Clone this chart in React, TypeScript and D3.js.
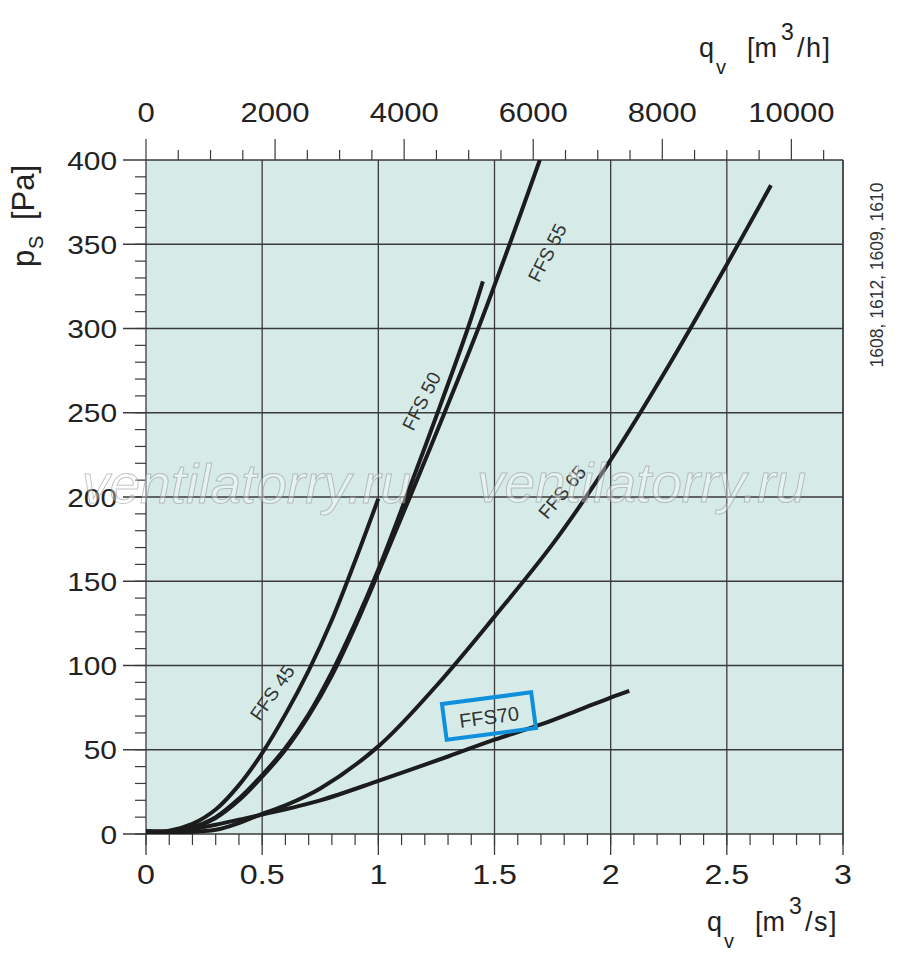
import { curveCatmullRom, line, range, scaleLinear } from "d3";

// qv [m3/s] ticks on the bottom axis
const flowTicks = [0, 0.5, 1, 1.5, 2, 2.5, 3];
const flowLabels = ["0", "0.5", "1", "1.5", "2", "2.5", "3"];
// qv [m3/h] ticks on the top axis
const flowHourTicks = [0, 2000, 4000, 6000, 8000, 10000];
const flowHourLabels = ["0", "2000", "4000", "6000", "8000", "10000"];
// ps [Pa]
const pressureTicks = [0, 50, 100, 150, 200, 250, 300, 350, 400];
const pressureLabels = ["0", "50", "100", "150", "200", "250", "300", "350", "400"];

type Pt = [number, number];

const ffs45: Pt[] = [
  [0, 1.5], [0.1, 2], [0.2, 6], [0.3, 14.5], [0.4, 29], [0.5, 48],
  [0.6, 71], [0.7, 97], [0.8, 127], [0.9, 162], [1.0, 199]
];
const ffs50: Pt[] = [
  [0, 1.5], [0.1, 1.5], [0.2, 4], [0.3, 10], [0.4, 21], [0.5, 35],
  [0.6, 51], [0.7, 71], [0.8, 96], [0.9, 125], [1.0, 157], [1.12, 200],
  [1.255, 250], [1.385, 300], [1.45, 328]
];
const ffs55: Pt[] = [
  [0, 1.5], [0.1, 1.5], [0.2, 3.5], [0.3, 9.5], [0.4, 20], [0.5, 34],
  [0.6, 50], [0.7, 70], [0.8, 94], [0.9, 123], [1.0, 155], [1.13, 198],
  [1.285, 250], [1.43, 300], [1.565, 350], [1.695, 400]
];
const ffs65: Pt[] = [
  [0, 1.5], [0.15, 1], [0.3, 2.5], [0.4, 6.5], [0.5, 12], [0.6, 17],
  [0.75, 27], [1.0, 52], [1.25, 88], [1.5, 129], [1.75, 172], [2.0, 222],
  [2.25, 278], [2.5, 338], [2.69, 385]
];
const ffs70: Pt[] = [
  [0, 1.5], [0.1, 1.5], [0.2, 3], [0.3, 5.5], [0.4, 8.5], [0.5, 11.5],
  [0.75, 20], [1.0, 31.5], [1.3, 46], [1.5, 56], [1.7, 65], [1.87, 74],
  [2.0, 81], [2.08, 85]
];

const series = [
  { name: "FFS 45", points: ffs45 },
  { name: "FFS 50", points: ffs50 },
  { name: "FFS 55", points: ffs55 },
  { name: "FFS 65", points: ffs65 },
  { name: "FFS70", points: ffs70 }
];

// where the curve names sit (data units) and how they are turned
const curveLabels = [
  { text: "FFS 45", q: 0.542, p: 84, angle: -55 },
  { text: "FFS 50", q: 1.184, p: 257, angle: -63 },
  { text: "FFS 55", q: 1.726, p: 345, angle: -63 },
  { text: "FFS 65", q: 1.79, p: 203, angle: -50 }
];
const boxedLabel = { text: "FFS70", q: 1.476, p: 70, angle: -7.5 };

const models = "1608, 1612, 1609, 1610";
const watermark = "ventilatorry.ru";

const left = 146;
const right = 843;
const top = 160;
const bottom = 834;
const stretch = 1.15;
const font = "'Liberation Sans', Arial, sans-serif";

export default function App(): React.JSX.Element {
  const x = scaleLinear().domain([0, 3]).range([left, right]);
  const xh = scaleLinear().domain([0, 10800]).range([left, right]);
  const y = scaleLinear().domain([0, 400]).range([bottom, top]);
  const path = line<Pt>()
    .curve(curveCatmullRom.alpha(0.5))
    .x(([q]) => x(q))
    .y(([, p]) => y(p));

  const gridColor = "#3a3a3a";

  return (
    <svg
      width={900}
      height={969}
      viewBox="0 0 900 969"
      style={{ position: "absolute", left: 0, top: 0, display: "block", background: "#fff" }}
      fontFamily={font}
    >
      <defs>
        <clipPath id="plot">
          <rect x={left} y={top} width={right - left} height={bottom - top} />
        </clipPath>
      </defs>
      <rect x={left} y={top} width={right - left} height={bottom - top} fill="#d6ebe8" />

      {/* grid */}
      {flowTicks.map((t) => (
        <line key={`gx${t}`} x1={x(t)} x2={x(t)} y1={top} y2={bottom + 21} stroke={gridColor} strokeWidth={1.3} />
      ))}
      {pressureTicks.map((t) => (
        <line key={`gy${t}`} x1={left - 23} x2={right} y1={y(t)} y2={y(t)} stroke={gridColor} strokeWidth={1.3} />
      ))}
      <line x1={right} x2={right} y1={top} y2={bottom} stroke={gridColor} strokeWidth={1.3} />

      {/* minor ticks */}
      {range(0, 3.0001, 0.1).map((t) => (
        <line key={`bx${t}`} x1={x(t)} x2={x(t)} y1={bottom} y2={bottom + 11} stroke={gridColor} strokeWidth={1.2} />
      ))}
      {range(0, 400, 10).map((t) => (
        <line key={`ly${t}`} x1={left - 11} x2={left} y1={y(t)} y2={y(t)} stroke={gridColor} strokeWidth={1.2} />
      ))}
      {range(0, 10800, 500).map((t) => (
        <line
          key={`tx${t}`}
          x1={xh(t)}
          x2={xh(t)}
          y1={top}
          y2={t % 2000 === 0 ? top - 21 : top - 10}
          stroke={gridColor}
          strokeWidth={1.2}
        />
      ))}

      {/* tick labels */}
      {flowTicks.map((t, i) => (
        <text key={`lx${t}`} transform={`translate(${x(t)},884) scale(${stretch},1)`} textAnchor="middle" fontSize={28} fill="#222">
          {flowLabels[i]}
        </text>
      ))}
      {flowHourTicks.map((t, i) => (
        <text key={`lh${t}`} transform={`translate(${xh(t)},122) scale(${stretch},1)`} textAnchor="middle" fontSize={27} fill="#222">
          {flowHourLabels[i]}
        </text>
      ))}
      {pressureTicks.map((t, i) => (
        <text key={`lp${t}`} transform={`translate(117,${y(t) + 9.5}) scale(${stretch},1)`} textAnchor="end" fontSize={26} fill="#222">
          {pressureLabels[i]}
        </text>
      ))}

      {/* curves */}
      <g clipPath="url(#plot)">
        {series.map((s) => (
          <path key={s.name} d={path(s.points) ?? ""} fill="none" stroke="#1c1c1c" strokeWidth={4} strokeLinecap="butt" />
        ))}
      </g>

      {curveLabels.map((l) => (
        <text
          key={l.text}
          transform={`translate(${x(l.q)},${y(l.p)}) rotate(${l.angle})`}
          textAnchor="middle"
          y={7}
          fontSize={19}
          fill="#333"
        >
          {l.text}
        </text>
      ))}
      <g transform={`translate(${x(boxedLabel.q)},${y(boxedLabel.p)}) rotate(${boxedLabel.angle})`}>
        <rect x={-45} y={-18} width={90} height={36} fill="none" stroke="#1090dc" strokeWidth={4} />
        <text y={8} textAnchor="middle" fontSize={20} fill="#333">
          {boxedLabel.text}
        </text>
      </g>

      {/* axis titles */}
      <g fill="#222" fontSize={27}>
        <text x={699} y={57}>q</text>
        <text x={716} y={74} fontSize={20}>v</text>
        <text x={747} y={57}>[m</text>
        <text x={781} y={40} fontSize={23}>3</text>
        <text x={797} y={57} letterSpacing={1.5}>/h]</text>

        <text x={707} y={931}>q</text>
        <text x={724} y={948} fontSize={20}>v</text>
        <text x={755} y={931}>[m</text>
        <text x={789} y={914} fontSize={23}>3</text>
        <text x={805} y={931} letterSpacing={1.5}>/s]</text>

        <g transform="translate(34,267) rotate(-90)">
          <text x={0} y={0} fontSize={31}>p</text>
          <text x={18} y={9} fontSize={20}>S</text>
          <text x={47} y={0} fontSize={31}>[Pa]</text>
        </g>
      </g>

      <text transform="translate(883,275) rotate(-90)" textAnchor="middle" fontSize={17.5} fill="#333">
        {models}
      </text>

      {/* watermark */}
      <g fontSize={55} fontStyle="italic" fill="rgba(255,255,255,0.35)" stroke="rgba(140,140,140,0.5)" strokeWidth={1}>
        <text x={82} y={503}>{watermark}</text>
        <text x={477} y={502}>{watermark}</text>
      </g>
    </svg>
  );
}
